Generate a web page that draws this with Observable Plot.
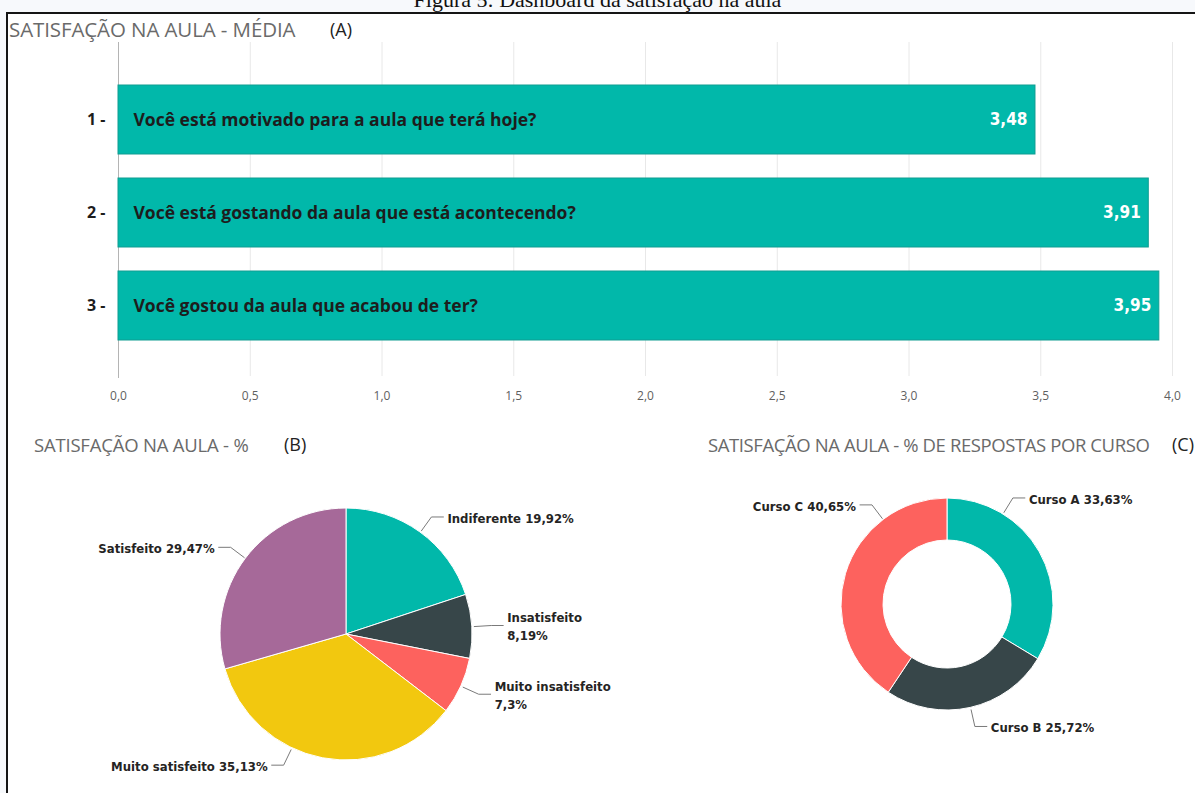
<!DOCTYPE html>
<html><head><meta charset="utf-8">
<script src="https://cdn.jsdelivr.net/npm/d3@7"></script>
<script src="https://cdn.jsdelivr.net/npm/@observablehq/plot@0.6"></script>
<style>
html,body{margin:0;padding:0;background:#fff;}
#page{position:relative;width:1195px;height:793px;overflow:hidden;background:#f7f9fc;}
#frame{position:absolute;left:6px;top:12px;width:1200px;height:800px;background:#fff;border-top:2px solid #151515;border-left:2px solid #151515;}
#caption{position:absolute;left:0;width:1195px;top:-13px;text-align:center;font:22px "Liberation Serif",serif;color:#111;white-space:nowrap;}
.title{position:absolute;font-family:"Open Sans",sans-serif;color:#6a6a6a;white-space:nowrap;line-height:1;}
.mark{position:absolute;font-family:"Open Sans",sans-serif;color:#222;white-space:nowrap;line-height:1;}
.abs{position:absolute;left:0;}
</style></head><body>
<div id="page">
  <div id="caption">Figura 5: Dashboard da satisfação na aula</div>
  <div id="frame"></div>
  <div id="chartA" class="abs" style="top:0"></div>
  <div id="chartBC" class="abs" style="top:450px"></div>
  <div class="title" style="left:9px;top:19px;font-size:20.5px;letter-spacing:-0.1px">SATISFAÇÃO NA AULA - MÉDIA</div>
  <div class="mark" style="left:330px;top:20px;font-size:18px">(A)</div>
  <div class="title" style="left:34px;top:436px;font-size:18.5px;letter-spacing:-0.2px">SATISFAÇÃO NA AULA - %</div>
  <div class="mark" style="left:284px;top:435px;font-size:18px">(B)</div>
  <div class="title" style="left:708px;top:436px;font-size:18.5px;letter-spacing:-0.4px">SATISFAÇÃO NA AULA - % DE RESPOSTAS POR CURSO</div>
  <div class="mark" style="left:1172px;top:435px;font-size:18px">(C)</div>
</div>
<script>
// ---- data (A) ----
const ids = ["1 -", "2 -", "3 -"];
const questions = [
  "Você está motivado para a aula que terá hoje?",
  "Você está gostando da aula que está acontecendo?",
  "Você gostou da aula que acabou de ter?"
];
const means = [3.48, 3.91, 3.95];
const xTicks = [0, 0.5, 1, 1.5, 2, 2.5, 3, 3.5, 4];

// ---- data (B) ----
const satCats = ["Indiferente", "Insatisfeito", "Muito insatisfeito", "Muito satisfeito", "Satisfeito"];
const satPct = [19.92, 8.19, 7.3, 35.13, 29.47];
const satColors = ["#01B8AA", "#374649", "#FD625E", "#F2C80F", "#A66999"];

// ---- data (C) ----
const courseCats = ["Curso A", "Curso B", "Curso C"];
const coursePct = [33.63, 25.72, 40.65];
const courseColors = ["#01B8AA", "#374649", "#FD625E"];

const comma = s => String(s).replace(".", ",");

// ---------- Chart A ----------
const rowsA = ids.map((id, i) => ({id, q: questions[i], v: means[i]}));
const chartA = Plot.plot({
  width: 1195, height: 415,
  marginLeft: 118, marginRight: 23, marginTop: 42, marginBottom: 45,
  style: {background: "none", color: "#5f5f5f", fontFamily: "Open Sans, sans-serif"},
  x: {domain: [0, 4], label: null},
  y: {domain: ids, paddingInner: 0.257, paddingOuter: 0.38, align: 0.59, axis: null},
  marks: [
    Plot.ruleX(xTicks.filter(d => d > 0), {stroke: "#e8e8e8", insetBottom: -6}),
    Plot.ruleX([0], {stroke: "#b4b4b4", insetBottom: -8}),
    Plot.axisX({ticks: xTicks, tickSize: 0, tickPadding: 21, fontSize: 12, label: null,
      tickFormat: d => comma(d.toFixed(1))}),
    Plot.barX(rowsA, {x: "v", y: "id", fill: "#01B8AA", stroke: "#109d92", strokeWidth: 1}),
    Plot.text(rowsA, {y: "id", text: "q", frameAnchor: "left", dx: 15, textAnchor: "start",
      fill: "#1d1d1d", fontWeight: "bold", fontSize: 17.5, fontFamily: "Open Sans, sans-serif"}),
    Plot.text(rowsA, {x: "v", y: "id", text: d => comma(d.v.toFixed(2)), textAnchor: "end", dx: -8,
      fill: "white", fontWeight: "bold", fontSize: 17, fontFamily: "DejaVu Sans Condensed, DejaVu Sans"}),
    Plot.text(rowsA, {y: "id", text: "id", frameAnchor: "left", dx: -13, textAnchor: "end",
      fill: "#1d1d1d", fontWeight: "bold", fontSize: 16, fontFamily: "Open Sans, sans-serif"})
  ]
});
document.getElementById("chartA").append(chartA);

// ---------- Charts B & C ----------
const W = 1195, H = 343;
const pieB = {cx: 346, cy: 184, r: 126, ri: 0, right: 600, left: 20};
const donutC = {cx: 947, cy: 154, r: 106, ri: 64, right: 1190, left: 620};
const labelNudge = {"Muito satisfeito": 15, "Curso A": -29, "Curso C": 36}; // degrees
const LABEL_FONT = "bold 13px 'DejaVu Sans Condensed'";

const allCats = [...satCats, ...courseCats];
const allColors = [...satColors, ...courseColors];
const colorScale = Plot.scale({color: {type: "ordinal", domain: allCats, range: allColors}});

const rowsB = satCats.map((name, i) => ({name, value: satPct[i]}));
const rowsC = courseCats.map((name, i) => ({name, value: coursePct[i]}));

const ctx = document.createElement("canvas").getContext("2d");
ctx.font = LABEL_FONT;

function layoutLabels(rows, g) {
  const arcs = d3.pie().sort(null).value(d => d.value)(rows);
  const leaders = [], labels = [];
  arcs.forEach(a => {
    const ang = (a.startAngle + a.endAngle) / 2 + (labelNudge[a.data.name] || 0) * Math.PI / 180;
    const sx = Math.sin(ang), sy = -Math.cos(ang);
    const side = sx >= 0 ? 1 : -1;
    const p0 = [g.cx + (g.r + 2) * sx, g.cy + (g.r + 2) * sy];
    const p1 = [g.cx + (g.r + 19) * sx, g.cy + (g.r + 19) * sy];
    const p2 = [p1[0] + side * 12, p1[1]];
    leaders.push({name: a.data.name, x: p0[0], y: p0[1]}, {name: a.data.name, x: p1[0], y: p1[1]}, {name: a.data.name, x: p2[0], y: p2[1]});
    const tx = p2[0] + side * 4;
    const pct = comma(a.data.value) + "%";
    let text = a.data.name + " " + pct;
    const w = ctx.measureText(text).width;
    if ((side > 0 && tx + w > g.right) || (side < 0 && tx - w < g.left)) text = a.data.name + "\n" + pct;
    labels.push({x: tx, y: p1[1], text, side});
  });
  return {leaders, labels};
}

function slices(rows, g) {
  return (index, scales) => {
    const X = scales.x, Y = scales.y;
    const col = scales.color || (v => colorScale.apply(v));
    const arcs = d3.pie().sort(null).value(d => d.value)(rows);
    const arc = d3.arc().innerRadius(g.ri).outerRadius(g.r);
    const grp = d3.create("svg:g").attr("transform", `translate(${X(g.cx)},${Y(g.cy)})`);
    grp.selectAll("path").data(arcs).join("path")
      .attr("d", arc)
      .attr("fill", d => col(d.data.name))
      .attr("stroke", "#fff").attr("stroke-width", 1).attr("stroke-linejoin", "round");
    return grp.node();
  };
}

const LB = layoutLabels(rowsB, pieB);
const LC = layoutLabels(rowsC, donutC);
const leaders = [...LB.leaders, ...LC.leaders];
const labels = [...LB.labels, ...LC.labels];

const textOpts = {x: "x", y: "y", text: "text", fill: "#252423", fontWeight: "bold", fontSize: 13,
  fontFamily: "DejaVu Sans Condensed, DejaVu Sans", lineAnchor: "middle", lineHeight: 1.4};

const chartBC = Plot.plot({
  width: W, height: H, margin: 0,
  style: {background: "none"},
  x: {domain: [0, W], range: [0, W], axis: null},
  y: {domain: [0, H], range: [0, H], axis: null},
  color: {type: "ordinal", domain: allCats, range: allColors},
  marks: [
    slices(rowsB, pieB),
    slices(rowsC, donutC),
    Plot.line(leaders, {x: "x", y: "y", z: "name", stroke: "#7a7a7a", strokeWidth: 1}),
    Plot.text(labels.filter(d => d.side > 0), {...textOpts, textAnchor: "start"}),
    Plot.text(labels.filter(d => d.side < 0), {...textOpts, textAnchor: "end"})
  ]
});
document.getElementById("chartBC").append(chartBC);
</script>
</body></html>
